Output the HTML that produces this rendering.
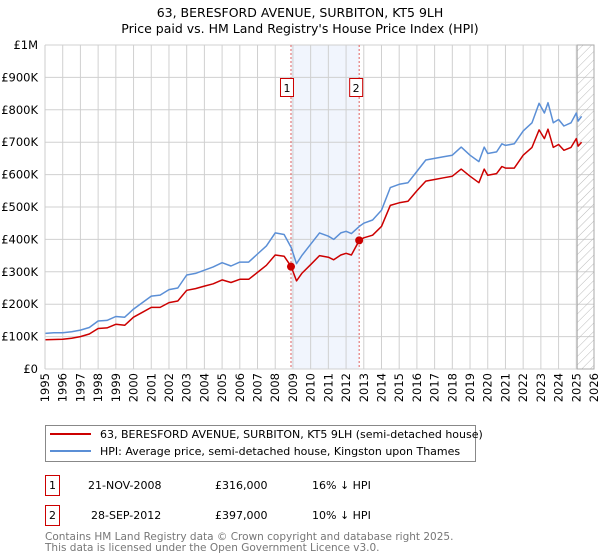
<!DOCTYPE html>
<html><head><meta charset="utf-8"><style>
body{margin:0;background:#fff;font-family:"DejaVu Sans","Liberation Sans",sans-serif;}
svg{display:block}
</style></head><body>
<svg id="c" width="600" height="560" viewBox="0 0 600 560" xmlns="http://www.w3.org/2000/svg" font-family="DejaVu Sans, Liberation Sans, sans-serif">
<text x="300" y="17" text-anchor="middle" font-size="12.5">63, BERESFORD AVENUE, SURBITON, KT5 9LH</text>
<text x="300" y="33" text-anchor="middle" font-size="12.5">Price paid vs. HM Land Registry's House Price Index (HPI)</text>
<g id="grid"></g>
<g id="marks"></g>
<g id="axes"></g>
<g>
<rect x="45.5" y="425.5" width="430" height="36" fill="#fff" stroke="#888"/>
<line x1="50" y1="434" x2="91" y2="434" stroke="#cc0000" stroke-width="2"/>
<text x="100" y="438" font-size="11">63, BERESFORD AVENUE, SURBITON, KT5 9LH (semi-detached house)</text>
<line x1="50" y1="451" x2="91" y2="451" stroke="#5b8fd6" stroke-width="2"/>
<text x="100" y="455" font-size="11">HPI: Average price, semi-detached house, Kingston upon Thames</text>
</g>
<g font-size="11">
<rect x="45.5" y="475.5" width="14" height="20" fill="#fff" stroke="#cc0000"/>
<text x="52.5" y="489" text-anchor="middle">1</text>
<text x="88" y="489">21-NOV-2008</text>
<text x="215" y="489">£316,000</text>
<text x="312" y="489">16% ↓ HPI</text>
</g>
<g font-size="11">
<rect x="45.5" y="505.5" width="14" height="20" fill="#fff" stroke="#cc0000"/>
<text x="52.5" y="519" text-anchor="middle">2</text>
<text x="91" y="519">28-SEP-2012</text>
<text x="215" y="519">£397,000</text>
<text x="312" y="519">10% ↓ HPI</text>
</g>
<text x="45" y="540" font-size="10.5" fill="#777">Contains HM Land Registry data © Crown copyright and database right 2025.</text>
<text x="45" y="551" font-size="10.5" fill="#777">This data is licensed under the Open Government Licence v3.0.</text>
</svg>
<script>
const hpiYears=[1995,1995.5,1996,1996.5,1997,1997.5,1998,1998.5,1999,1999.5,2000,2000.5,2001,2001.5,2002,2002.5,2003,2003.5,2004,2004.5,2005,2005.5,2006,2006.5,2007,2007.5,2008,2008.5,2008.9,2009.2,2009.5,2010,2010.5,2011,2011.3,2011.7,2012,2012.3,2012.75,2013,2013.5,2014,2014.5,2015,2015.5,2016,2016.5,2017,2017.5,2018,2018.5,2019,2019.5,2019.8,2020,2020.5,2020.8,2021,2021.5,2022,2022.5,2022.9,2023.2,2023.4,2023.7,2024,2024.3,2024.7,2025,2025.1,2025.3];
const hpiValues=[110,112,112,115,120,128,148,150,162,160,185,205,225,228,245,250,290,295,305,315,328,318,330,330,355,380,420,415,375,325,350,385,420,410,400,420,425,418,440,450,460,490,560,570,575,610,645,650,655,660,685,660,640,685,665,670,695,690,695,735,760,820,790,822,760,770,750,760,790,765,780];
const priceValues=[90,91,92,95,100,108,125,127,138,135,160,175,190,190,205,210,243,248,256,263,275,267,277,277,298,320,352,348,316,272,295,322,350,345,337,352,357,352,397,405,413,440,505,513,518,550,580,585,590,595,617,595,575,617,598,603,625,620,620,660,684,738,711,740,684,693,675,684,711,688,700];
const saleYears=[2008.89,2012.74];
const saleValues=[316,397];
const saleLabels=["1","2"];
const yTicks=[0,100,200,300,400,500,600,700,800,900,1000];
const yTickLabels=["£0","£100K","£200K","£300K","£400K","£500K","£600K","£700K","£800K","£900K","£1M"];
const xYears=[1995,1996,1997,1998,1999,2000,2001,2002,2003,2004,2005,2006,2007,2008,2009,2010,2011,2012,2013,2014,2015,2016,2017,2018,2019,2020,2021,2022,2023,2024,2025,2026];
const dataEnd=2025.05;

const NS="http://www.w3.org/2000/svg";
const L=45,R=594,T=45,B=369;
const x=v=>L+(v-1995)/(2026-1995)*(R-L);
const y=v=>B-v/1000*(B-T);
function mk(tag,attrs,parent){const e=document.createElementNS(NS,tag);for(const k in attrs)e.setAttribute(k,attrs[k]);parent.appendChild(e);return e;}
const grid=document.getElementById('grid'),marks=document.getElementById('marks'),axes=document.getElementById('axes');
// shading between sales
let sh=mk('rect',{x:x(saleYears[0]),y:T,width:x(saleYears[1])-x(saleYears[0]),height:B-T,fill:'#eef3fc',opacity:0.8},grid);


yTicks.forEach((t,i)=>{
 let g=mk('line',{x1:L,x2:R,y1:y(t),y2:y(t),stroke:'#d0d0d0','stroke-width':1},grid);
 
 
 let tx=mk('text',{x:38,y:y(t)+4,'text-anchor':'end','font-size':11.5},axes);
 tx.textContent=yTickLabels[i];
 
 
});
xYears.forEach(yr=>{
 let g=mk('line',{x1:x(yr),x2:x(yr),y1:T,y2:B,stroke:'#d0d0d0','stroke-width':1},grid);
 
 
 let tx=mk('text',{x:0,y:0,'text-anchor':'end','font-size':11.5,transform:`translate(${x(yr)+4},${B+4}) rotate(-90)`},axes);
 tx.textContent=yr;
 
 
});
// hatched future region
const defs=mk('defs',{},grid);
const pat=mk('pattern',{id:'hatch',width:6,height:6,patternUnits:'userSpaceOnUse',patternTransform:'rotate(45)'},defs);
mk('line',{x1:0,y1:0,x2:0,y2:6,stroke:'#bbb','stroke-width':1},pat);
let hz=mk('rect',{x:x(dataEnd),y:T,width:R-x(dataEnd),height:B-T,fill:'url(#hatch)',stroke:'#aaa'},grid);


// sale vlines
saleYears.forEach((s,i)=>{
 let l=mk('line',{x1:x(s),x2:x(s),y1:T,y2:B,stroke:'#e06060','stroke-width':1,'stroke-dasharray':'2,2'},grid);
 
 
 let bx=x(s)+(i===0?-4:-3);
 let r=mk('rect',{x:bx-6.5,y:78.5,width:13,height:18,fill:'#fff',stroke:'#cc0000'},axes);
 
 
 let t=mk('text',{x:bx,y:92,'text-anchor':'middle','font-size':11},axes);
 t.textContent=saleLabels[i];
 
 
});
function line(vals,color,name){
 const d=hpiYears.map((yr,i)=>(i?'L':'M')+x(yr).toFixed(1)+','+y(vals[i]).toFixed(1)).join('');
 let p=mk('path',{d:d,fill:'none',stroke:color,'stroke-width':1.5,'stroke-linejoin':'round'},marks);
 
 
}
line(hpiValues,'#5b8fd6','hpi-line');
line(priceValues,'#cc0000','price-paid-line');
saleYears.forEach((s,i)=>{
 let c=mk('circle',{cx:x(s),cy:y(saleValues[i]),r:4,fill:'#cc0000'},marks);
 
 
});
let ax=mk('line',{x1:L,x2:L,y1:T,y2:B,stroke:'#ccc'},axes);


</script>
</body></html>
